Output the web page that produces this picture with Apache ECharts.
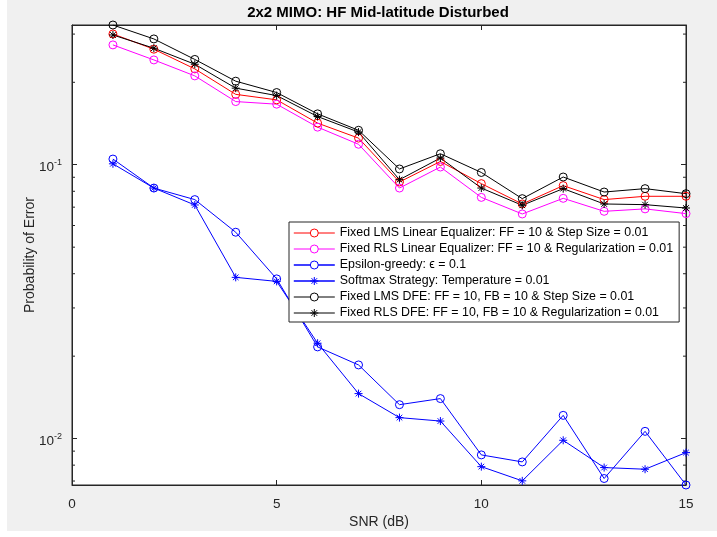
<!DOCTYPE html>
<html>
<head>
<meta charset="utf-8">
<script src="https://cdn.jsdelivr.net/npm/echarts@6/dist/echarts.min.js"></script>
<style>
html,body{margin:0;padding:0;background:#fff;}
#chart{width:717px;height:537px;}
</style>
</head>
<body>
<div id="chart"></div>
<script>
// ---- data ----
const snr = [1,2,3,4,5,6,7,8,9,10,11,12,13,14,15];
const lmsLinear = [0.3003,0.2642,0.2239,0.1807,0.1726,0.1419,0.1251,0.0865,0.1028,0.0853,0.0719,0.0839,0.0746,0.0767,0.0767];
const rlsLinear = [0.2739,0.2414,0.2111,0.1701,0.1664,0.1372,0.1188,0.0822,0.0981,0.0760,0.0661,0.0754,0.0676,0.0690,0.0663];
const epsGreedy = [0.1049,0.0822,0.0746,0.0567,0.0383,0.02162,0.01858,0.0133,0.0140,0.00872,0.00822,0.01216,0.00715,0.01063,0.00677];
const softmax   = [0.1008,0.0822,0.0713,0.0388,0.0375,0.0223,0.0146,0.01193,0.01159,0.0079,0.00701,0.00986,0.00784,0.00773,0.00889];
const lmsDFE    = [0.3238,0.2880,0.2424,0.2019,0.1835,0.1534,0.1336,0.0965,0.1097,0.0937,0.0752,0.0902,0.0795,0.0818,0.0784];
const rlsDFE    = [0.2978,0.2664,0.2328,0.1904,0.1789,0.1500,0.1316,0.0882,0.1058,0.0822,0.0711,0.0818,0.0719,0.0715,0.0695];
const seriesNames = [
  'Fixed LMS Linear Equalizer: FF = 10 & Step Size = 0.01',
  'Fixed RLS Linear Equalizer: FF = 10 & Regularization = 0.01',
  'Epsilon-greedy: \u03f5 = 0.1',
  'Softmax Strategy: Temperature = 0.01',
  'Fixed LMS DFE: FF = 10, FB = 10 & Step Size = 0.01',
  'Fixed RLS DFE: FF = 10, FB = 10 & Regularization = 0.01'
];
const seriesColors = ['#ff0000','#ff00ff','#0000ff','#0000ff','#000000','#000000'];
const xTicks = [0,5,10,15];
const yMin = 0.00677, yMax = 0.3238;
const minorTicks = [0.007,0.008,0.009,0.02,0.03,0.04,0.05,0.06,0.07,0.08,0.09,0.2,0.3];

// ---- chart ----
const FONT = '"Liberation Sans", Arial, Helvetica, sans-serif';
const AX = '#262626';
const STAR = 'path://M5 0L5 10M0 5L10 5M1.5 1.5L8.5 8.5M1.5 8.5L8.5 1.5';

function mk(name, data, color, symbol, lw) {
  const star = symbol === 'star';
  return {
    name: name, type: 'line',
    data: snr.map((x,i)=>[x, data[i]]),
    symbol: star ? STAR : 'circle',
    symbolSize: 8,
    showAllSymbol: true,
    lineStyle: {color: color, width: lw},
    itemStyle: {color: 'none', borderColor: color, borderWidth: 1},
    emphasis: {disabled: true},
    animation: false,
    z: 3
  };
}

const chart = echarts.init(document.getElementById('chart'), null, {renderer: 'canvas'});
const grid = {left: 72, right: 31, top: 25, bottom: 52};

const option = {
  animation: false,
  textStyle: {fontFamily: FONT},
  graphic: [
    {type:'rect', z:-100, silent:true, shape:{x:7,y:0,width:710,height:531}, style:{fill:'#f0f0f0'}},
    {type:'text', z:10, silent:true, x:378, y:13,
     style:{text:'2x2 MIMO: HF Mid-latitude Disturbed', textAlign:'center', textVerticalAlign:'middle',
            fontFamily: FONT, fontSize: 15, fontWeight: 'bold', fill: '#000'}}
  ],
  grid: Object.assign({show: true, backgroundColor: '#fff', borderColor: AX, borderWidth: 1}, grid),
  legend: {
    left: 289, top: 222, orient: 'vertical',
    data: seriesNames.map((n,i)=>({
      name: n,
      itemStyle: {color: '#fff', borderColor: seriesColors[i], borderWidth: 1},
      lineStyle: {color: seriesColors[i], width: (i===2||i===3) ? 1.6 : 1}
    })),
    itemWidth: 41, itemHeight: 10, itemGap: 0,
    padding: [3, 6, 1, 4],
    backgroundColor: '#fff', borderColor: AX, borderWidth: 1,
    textStyle: {fontFamily: FONT, fontSize: 12.4, color: '#000', lineHeight: 16},
    selectedMode: false
  },
  xAxis: [{
    type: 'value', min: 0, max: 15, interval: 5, position: 'bottom',
    name: 'SNR (dB)', nameLocation: 'middle', nameGap: 30, nameMoveOverlap: false,
    nameTextStyle: {fontFamily: FONT, fontSize: 14, color: AX},
    axisLine: {show: true, onZero: false, lineStyle: {color: AX}},
    axisTick: {show: true, inside: true, length: 5, lineStyle: {color: AX}},
    axisLabel: {fontFamily: FONT, fontSize: 13.5, color: AX, margin: 12},
    splitLine: {show: false}
  },{
    type: 'value', min: 0, max: 15, interval: 5, position: 'top',
    axisLine: {show: true, onZero: false, lineStyle: {color: AX}},
    axisTick: {show: true, inside: true, length: 5, lineStyle: {color: AX}},
    axisLabel: {show: false}, splitLine: {show: false}
  }],
  yAxis: [{
    type: 'log', logBase: 10, min: yMin, max: yMax, position: 'left',
    name: 'Probability of Error', nameLocation: 'middle', nameGap: 35, nameMoveOverlap: false,
    nameTextStyle: {fontFamily: FONT, fontSize: 14, color: AX},
    axisLine: {show: true, onZero: false, lineStyle: {color: AX}},
    axisTick: {show: true, inside: true, length: 5, lineStyle: {color: AX}},
    axisLabel: {
      margin: 10, color: AX,
      formatter: function(v){
        const e = Math.log10(v);
        if (Math.abs(e - Math.round(e)) < 1e-6) return '{b|10}{s|' + Math.round(e) + '}';
        return '';
      },
      rich: {
        b: {fontFamily: FONT, fontSize: 13.5, color: AX, verticalAlign: 'bottom', lineHeight: 20},
        s: {fontFamily: FONT, fontSize: 9, color: AX, verticalAlign: 'bottom', lineHeight: 20, padding: [0,0,8,0]}
      }
    },
    splitLine: {show: false}
  },{
    type: 'log', logBase: 10, min: yMin, max: yMax, position: 'right',
    axisLine: {show: true, onZero: false, lineStyle: {color: AX}},
    axisTick: {show: true, inside: true, length: 5, lineStyle: {color: AX}},
    axisLabel: {show: false}, splitLine: {show: false}
  }],
  series: [
    mk(seriesNames[0], lmsLinear, seriesColors[0], 'circle', 1),
    mk(seriesNames[1], rlsLinear, seriesColors[1], 'circle', 1),
    mk(seriesNames[2], epsGreedy, seriesColors[2], 'circle', 1),
    mk(seriesNames[3], softmax,   seriesColors[3], 'star', 1),
    mk(seriesNames[4], lmsDFE,    seriesColors[4], 'circle', 1),
    mk(seriesNames[5], rlsDFE,    seriesColors[5], 'star', 1),
    {
      type: 'custom', name: 'minor', silent: true, clip: false, z: 2,
      data: minorTicks.map(v=>[0, v]),
      renderItem: function(params, api){
        const v = api.value(1);
        const p = api.coord([0, v]);
        const q = api.coord([15, v]);
        return {type: 'group', children: [
          {type:'line', shape:{x1:p[0], y1:p[1], x2:p[0]+3, y2:p[1]}, style:{stroke:AX, lineWidth:1}},
          {type:'line', shape:{x1:q[0]-3, y1:q[1], x2:q[0], y2:q[1]}, style:{stroke:AX, lineWidth:1}}
        ]};
      }
    }
  ]
};
chart.setOption(option);
</script>
</body>
</html>
